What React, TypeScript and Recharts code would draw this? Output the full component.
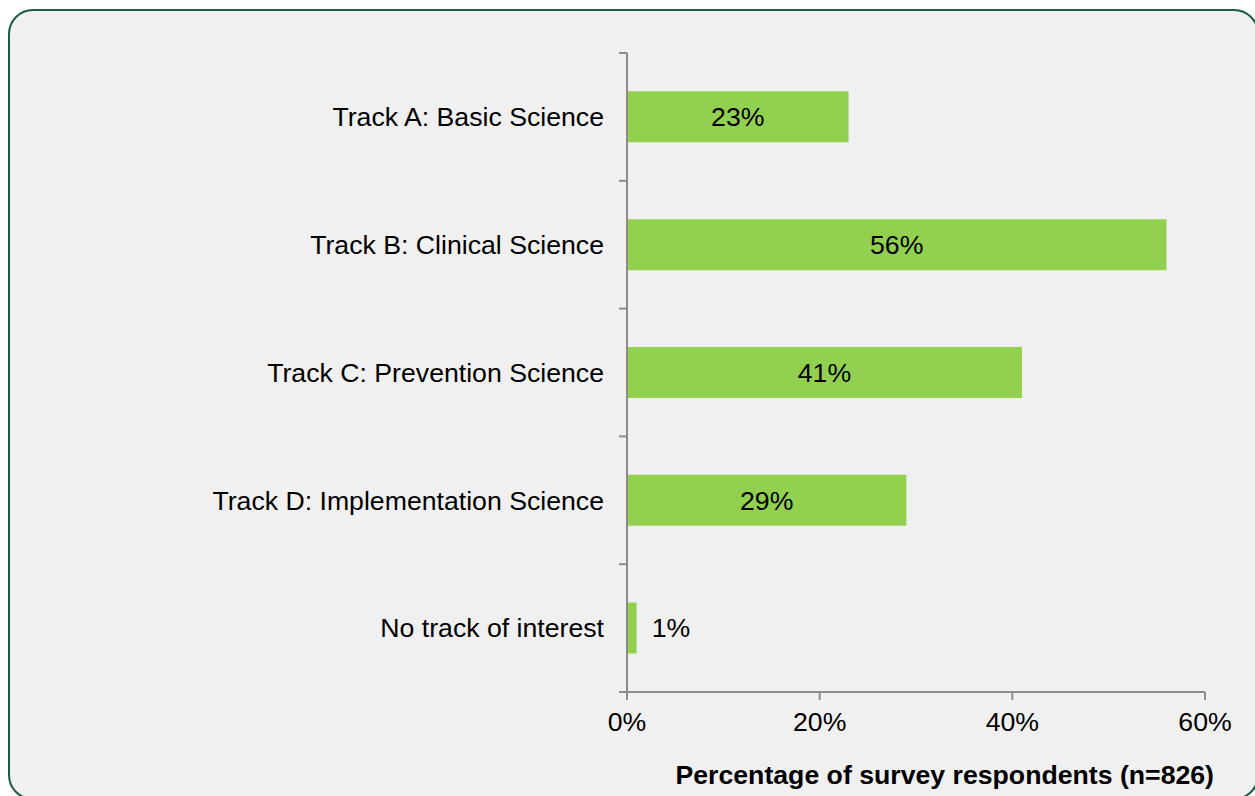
import { BarChart, Bar, XAxis, YAxis, LabelList, Label } from "recharts";

const tracks = [
  "Track A: Basic Science",
  "Track B: Clinical Science",
  "Track C: Prevention Science",
  "Track D: Implementation Science",
  "No track of interest",
];
const shares = [0.23, 0.56, 0.41, 0.29, 0.01];
const xTicks = [0, 0.2, 0.4, 0.6];
const axisTitle = "Percentage of survey respondents (n=826)";

const data = tracks.map((track, i) => ({ track, share: shares[i] }));

const FONT = "'Liberation Sans', Arial, sans-serif";
const FS = 26.67;
const AXIS = "#8c8c8c";
const GREEN = "#92d050";

const pct = (v: number) => `${Math.round(v * 100)}%`;

// category label plus the little tick marks that sit between categories
function TrackTick(props: any) {
  const { x, y, payload, index } = props;
  const half = payload?.offset || 64;
  const axisX = x + 23;
  return (
    <g>
      <text
        x={x}
        y={y}
        dy="0.35em"
        textAnchor="end"
        fontSize={FS}
        fontFamily={FONT}
        fill="#000"
      >
        {payload.value}
      </text>
      <line x1={axisX - 8} x2={axisX} y1={y - half} y2={y - half} stroke={AXIS} strokeWidth={2} />
      {index === tracks.length - 1 && (
        <line x1={axisX - 8} x2={axisX} y1={y + half} y2={y + half} stroke={AXIS} strokeWidth={2} />
      )}
    </g>
  );
}

function ValueLabel(props: any) {
  const { x, y, width, height, value } = props;
  const outside = value < 0.05;
  return (
    <text
      x={outside ? x + width + 15 : x + width / 2}
      y={y + height / 2}
      dy="0.35em"
      textAnchor={outside ? "start" : "middle"}
      fontSize={FS}
      fontFamily={FONT}
      fill="#000"
    >
      {pct(value)}
    </text>
  );
}

export default function App() {
  return (
    <div
      style={{
        position: "absolute",
        left: 0,
        top: 0,
        width: 1255,
        height: 796,
        overflow: "hidden",
        background: "#fff",
      }}
    >
      <div
        style={{
          position: "absolute",
          left: 8,
          top: 9,
          width: 1251,
          height: 791,
          boxSizing: "border-box",
          border: "2.5px solid #1a5c42",
          borderRadius: 25,
          background: "#f0f0f0",
        }}
      />
      <div style={{ position: "absolute", left: 0, top: 0 }}>
        <BarChart
          width={1255}
          height={796}
          data={data}
          layout="vertical"
          barCategoryGap="30%"
          margin={{ top: 53, right: 50, left: 0, bottom: 0 }}
        >
          <XAxis
            type="number"
            domain={[0, 0.6]}
            ticks={xTicks}
            tickFormatter={pct}
            height={104}
            tickSize={8}
            tickMargin={12}
            stroke={AXIS}
            strokeWidth={2}
            tick={{ fontSize: FS, fontFamily: FONT, fill: "#000" }}
          >
            <Label
              content={(p: any) => {
                const vb = p.viewBox;
                return (
                  <text
                    x={vb.x + vb.width + 9}
                    y={784}
                    textAnchor="end"
                    fontSize={FS}
                    fontWeight="bold"
                    fontFamily={FONT}
                    fill="#000"
                  >
                    {axisTitle}
                  </text>
                );
              }}
            />
          </XAxis>
          <YAxis
            type="category"
            dataKey="track"
            width={627}
            tickSize={0}
            tickMargin={23}
            stroke={AXIS}
            strokeWidth={2}
            tick={<TrackTick />}
            interval={0}
          />
          <Bar dataKey="share" fill={GREEN} isAnimationActive={false}>
            <LabelList dataKey="share" content={<ValueLabel />} />
          </Bar>
        </BarChart>
      </div>
    </div>
  );
}
